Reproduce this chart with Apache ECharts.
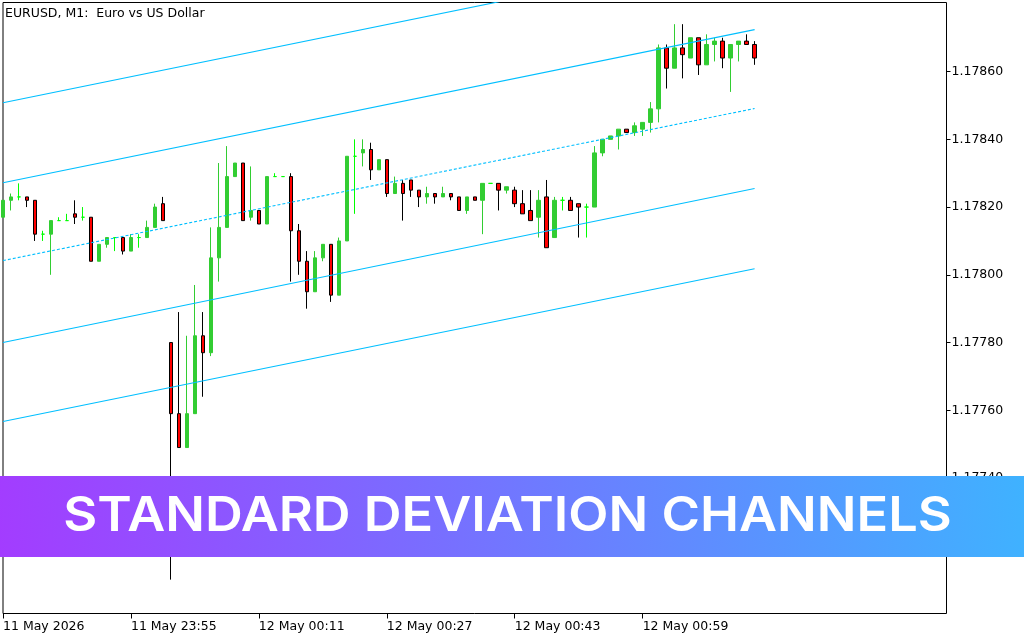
<!DOCTYPE html>
<html><head><meta charset="utf-8">
<style>html,body{margin:0;padding:0;background:#fff}#c{width:1024px;height:640px}</style>
<script src="https://cdn.jsdelivr.net/npm/echarts@6/dist/echarts.min.js"></script>
</head><body><div id="c"></div>
<script>
const chartTitle = 'EURUSD, M1:  Euro vs US Dollar';
const bannerText = 'STANDARD DEVIATION CHANNELS';
const timeLabels = ['11 May 2026','11 May 23:55','12 May 00:11','12 May 00:27','12 May 00:43','12 May 00:59'];
const priceTicks = [1.1774,1.1776,1.1778,1.178,1.1782,1.1784,1.1786];
const opens = [1.17817,1.17822,1.17823,1.17823,1.17822,1.17812,1.17812,1.17816,1.17816,1.17818,1.17817,1.17817,1.17804,1.17809,1.17811,1.17811,1.17807,1.17811,1.17811,1.17814,1.17821,
1.17780,1.17759,1.17749,1.17759,1.17782,1.17777,1.17805,1.17814,1.17829,1.17833,1.17817,1.17819,1.17815,1.17829,1.17829,1.17829,1.17813,1.17804,1.17795,1.17805,1.17809,1.17794,1.17810,1.17835,
1.17836,1.17837,1.17831,1.17834,1.17824,1.17827,1.17828,1.17825,1.17823,1.17824,1.17823,1.17824,1.17823,1.17819,1.17823,1.17822,1.17827,1.17827,1.17825,1.17825,1.17821,1.17819,1.17817,1.17823,1.17811,1.17822,1.17822,1.17821,1.17820,
1.17820,1.17836,1.17840,1.17841,1.17843,1.17842,1.17843,1.17845,1.17849,1.17867,1.17861,1.17867,1.17864,1.17870,1.17862,1.17868,1.17869,1.17864,1.17868,1.17869,1.17868];
const closes = [1.17822,1.17823,1.17823,1.17822,1.17812,1.17812,1.17816,1.17816,1.17816,1.17817,1.17817,1.17804,1.17809,1.17811,1.17811,1.17807,1.17811,1.17811,1.17814,1.17820,1.17816,
1.17759,1.17749,1.17759,1.17782,1.17777,1.17805,1.17814,1.17829,1.17833,1.17816,1.17819,1.17815,1.17829,1.17829,1.17829,1.17813,1.17804,1.17795,1.17805,1.17809,1.17794,1.17810,1.17835,1.17835,
1.17837,1.17831,1.17834,1.17824,1.17827,1.17824,1.17825,1.17823,1.17824,1.17823,1.17824,1.17823,1.17819,1.17823,1.17822,1.17827,1.17827,1.17825,1.17826,1.17821,1.17818,1.17816,1.17822,1.17808,1.17822,1.17822,1.17819,1.17820,1.17820,
1.17836,1.17840,1.17841,1.17843,1.17842,1.17844,1.17845,1.17849,1.17867,1.17861,1.17867,1.17865,1.17870,1.17862,1.17868,1.17869,1.17864,1.17868,1.17869,1.17868,1.17864];
const lows = [1.17817,1.17819,1.17822,1.17820,1.17810,1.17810,1.17800,1.17816,1.17816,1.17815,1.17816,1.17804,1.17804,1.17808,1.17807,1.17806,1.17807,1.17808,1.17811,1.17814,1.17816,
1.17710,1.17749,1.17749,1.17759,1.17764,1.17776,1.17798,1.17814,1.17829,1.17816,1.17816,1.17815,1.17815,1.17829,1.17829,1.17798,1.17800,1.17790,1.17795,1.17804,1.17792,1.17794,1.17810,1.17818,
1.17832,1.17828,1.17831,1.17823,1.17824,1.17816,1.17823,1.17820,1.17821,1.17821,1.17823,1.17822,1.17819,1.17818,1.17822,1.17812,1.17827,1.17819,1.17824,1.17820,1.17818,1.17816,1.17811,1.17808,1.17811,1.17819,1.17819,1.17811,1.17811,
1.17820,1.17835,1.17840,1.17837,1.17842,1.17841,1.17841,1.17842,1.17845,1.17855,1.17861,1.17858,1.17864,1.17859,1.17862,1.17863,1.17861,1.17854,1.17863,1.17868,1.17862];
const highs = [1.17822,1.17824,1.17827,1.17823,1.17822,1.17813,1.17816,1.17817,1.17818,1.17822,1.17820,1.17817,1.17809,1.17811,1.17811,1.17811,1.17812,1.17812,1.17816,1.17821,1.17823,
1.17780,1.17789,1.17782,1.17797,1.17789,1.17814,1.17833,1.17838,1.17833,1.17833,1.17832,1.17819,1.17829,1.17830,1.17829,1.17830,1.17815,1.17807,1.17807,1.17809,1.17809,1.17811,1.17835,1.17840,
1.17840,1.17839,1.17834,1.17834,1.17829,1.17828,1.17828,1.17825,1.17826,1.17824,1.17826,1.17824,1.17823,1.17823,1.17823,1.17827,1.17827,1.17827,1.17826,1.17826,1.17825,1.17825,1.17825,1.17828,1.17823,1.17823,1.17823,1.17821,1.17821,
1.17838,1.17840,1.17841,1.17843,1.17843,1.17845,1.17845,1.17851,1.17868,1.17868,1.17874,1.17874,1.17870,1.17870,1.17871,1.17870,1.17870,1.17868,1.17869,1.17871,1.17869];
const channelFirstIndex = 0, channelLastIndex = 94;
const channelTopLine = [1.178508,1.178960];
const channelUpperLine = [1.178272,1.178724];
const channelMidLine = [1.178042,1.178491];
const channelLowerLine = [1.177800,1.178255];
const channelBottomLine = [1.177567,1.178018];

const slots = 119, every = 16;
const categories = Array.from({length: slots}, (_, i) => (i % every === 0 && timeLabels[i / every]) || '');
const isTimeTick = i => i % every === 0 && i / every < timeLabels.length;
const font = 'DejaVu Sans';
const channel = (vals, dashed) => ({
  type: 'line', data: [[channelFirstIndex, vals[0]], [channelLastIndex, vals[1]]], symbol: 'none', silent: true, z: 5,
  lineStyle: {color: '#00BFFF', width: 1.1, type: dashed ? [3, 2] : 'solid'}
});
const chart = echarts.init(document.getElementById('c'), null, {renderer: 'canvas'});
chart.setOption({
  animation: false, backgroundColor: '#fff',
  title: {text: chartTitle, left: 5, top: 7, padding: 0, textStyle: {fontFamily: font, fontSize: 12.5, fontWeight: 'normal', color: '#000'}},
  grid: {left: 2.5, top: 2.5, width: 944, height: 611, show: true, borderColor: '#000', borderWidth: 1, backgroundColor: '#fff'},
  xAxis: {type: 'category', data: categories, boundaryGap: false,
    axisLine: {show: false},
    axisTick: {show: true, length: 5, interval: isTimeTick, lineStyle: {color: '#000'}},
    axisLabel: {show: true, interval: isTimeTick, align: 'left', margin: 7, fontFamily: font, fontSize: 12.5, color: '#000', padding: [0,0,0,0], formatter: v => v},
    splitLine: {show: false}},
  yAxis: {type: 'value', position: 'right', scale: true, min: 1.177, max: 1.178804,
    axisLine: {show: false},
    axisTick: {show: true, length: 4, customValues: priceTicks, lineStyle: {color: '#000'}},
    axisLabel: {show: true, customValues: priceTicks, margin: 5, fontFamily: font, fontSize: 12.5, color: '#000', padding: [2,0,0,0], formatter: v => v.toFixed(5)},
    splitLine: {show: false}},
  series: [
    {type: 'candlestick', barWidth: 4, silent: true, z: 2,
     data: opens.map((o, i) => [o, closes[i], lows[i], highs[i]]),
     itemStyle: {color: '#32CD32', color0: '#FF0000', borderColor: '#32CD32', borderColor0: '#000000', borderColorDoji: '#00FF00', borderWidth: 1}},
    channel(channelTopLine), channel(channelUpperLine), channel(channelMidLine, true), channel(channelLowerLine), channel(channelBottomLine)
  ],
  graphic: [
    {type: 'rect', z: 100, silent: true, shape: {x: 0, y: 476, width: 1024, height: 81},
     style: {fill: new echarts.graphic.LinearGradient(0, 557, 1024, 476, [{offset: 0, color: '#A33CFF'}, {offset: 1, color: '#3FB2FF'}], true)}},
    {type: 'text', z: 101, silent: true, x: 507.5, y: 517, scaleX: 1.09, style: {text: bannerText, x: 0, y: 0, align: 'center', verticalAlign: 'middle', fill: '#fff', font: '600 48px Inter'}}
  ]
});
</script></body></html>
